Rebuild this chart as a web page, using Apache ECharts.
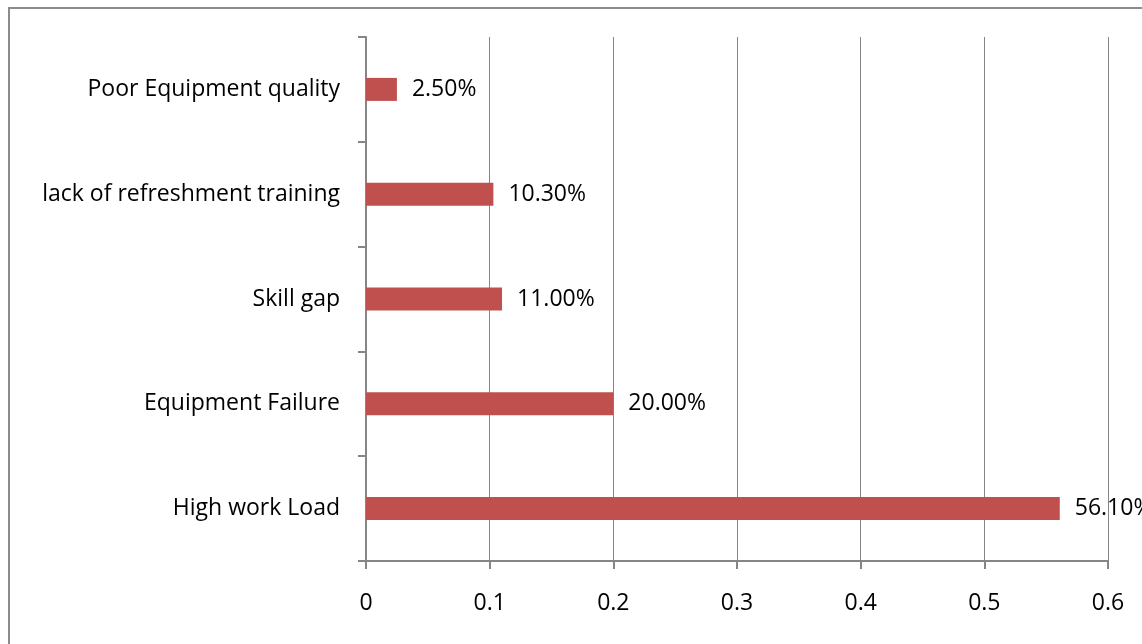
<!DOCTYPE html>
<html>
<head>
<meta charset="utf-8">
<script src="https://cdn.jsdelivr.net/npm/echarts@6/dist/echarts.min.js"></script>
<style>
  html, body { margin: 0; padding: 0; background: #fff; }
  #chart { width: 1142px; height: 644px; }
</style>
</head>
<body>
<div id="chart"></div>
<script>
// categories bottom -> top (category axis draws first item at the bottom)
var categories = ["High work Load", "Equipment Failure", "Skill gap", "lack of refreshment training", "Poor Equipment quality"];
var values = [0.561, 0.20, 0.11, 0.103, 0.025];
var xTicks = [0, 0.1, 0.2, 0.3, 0.4, 0.5, 0.6];

var chart = echarts.init(document.getElementById("chart"));
var font = "'Open Sans', 'Liberation Sans', sans-serif";
var gridColor = "#868686";

chart.setOption({
  animation: false,
  graphic: [{
    type: "rect",
    shape: { x: 9, y: 8, width: 1200, height: 700 },
    style: { fill: "none", stroke: "#8c8c8c", lineWidth: 2 }
  }],
  grid: { left: 366, right: 34, top: 37, bottom: 83, containLabel: false },
  xAxis: {
    type: "value",
    min: xTicks[0],
    max: xTicks[xTicks.length - 1],
    interval: 0.1,
    axisLine: { show: true, lineStyle: { color: gridColor, width: 2 } },
    axisTick: { show: true, length: 8, lineStyle: { color: gridColor, width: 2 } },
    splitLine: { show: true, lineStyle: { color: gridColor, width: 1 } },
    axisLabel: {
      margin: 31,
      color: "#000",
      fontFamily: font,
      fontSize: 23,
      formatter: function (v) { return String(Math.round(v * 10) / 10); }
    }
  },
  yAxis: {
    type: "category",
    data: categories,
    axisLine: { show: true, lineStyle: { color: gridColor, width: 2 } },
    axisTick: { show: true, length: 8, lineStyle: { color: gridColor, width: 2 } },
    axisLabel: { margin: 26, color: "#000", fontFamily: font, fontSize: 23 }
  },
  series: [{
    type: "bar",
    data: values,
    barWidth: 23,
    itemStyle: { color: "#C0504D" },
    label: {
      show: true,
      position: "right",
      distance: 15,
      color: "#000",
      fontFamily: font,
      fontSize: 23,
      formatter: function (p) { return (p.value * 100).toFixed(2) + "%"; }
    }
  }]
});
</script>
</body>
</html>
